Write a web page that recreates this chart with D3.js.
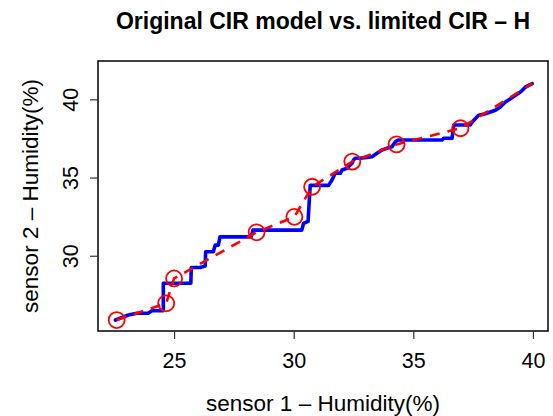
<!DOCTYPE html>
<html><head><meta charset="utf-8">
<script src="https://cdn.jsdelivr.net/npm/d3@7"></script>
<style>body{margin:0;background:#fff}svg{display:block}</style>
</head><body><svg id="c" width="553" height="416"></svg>
<script>
// ---- data ----
const blueX = [22.55, 23.09, 23.44, 23.92, 24.07, 24.55, 24.55, 25.70, 25.72, 26.09, 26.30, 26.32, 26.64, 26.72, 26.85, 26.92, 28.22, 28.30, 30.34, 30.41, 30.60, 30.69, 31.46, 31.60, 31.74, 31.95, 32.02, 32.23, 32.44, 32.50, 32.57, 32.78, 33.06, 33.27, 33.48, 33.69, 33.90, 34.11, 34.25, 34.37, 36.20, 36.27, 36.62, 36.69, 37.38, 37.46, 37.73, 38.01, 38.22, 38.43, 38.64, 38.85, 39.06, 39.27, 39.48, 39.69, 39.97];
const blueY = [25.89, 26.21, 26.32, 26.32, 26.48, 26.48, 28.24, 28.24, 29.25, 29.25, 29.35, 30.26, 30.26, 30.68, 30.68, 31.21, 31.21, 31.64, 31.64, 32.07, 32.20, 34.50, 34.50, 34.84, 35.27, 35.27, 35.48, 35.59, 35.91, 36.12, 36.23, 36.23, 36.29, 36.33, 36.55, 36.76, 36.87, 36.97, 37.29, 37.40, 37.40, 37.51, 37.51, 38.36, 38.36, 38.55, 38.98, 39.08, 39.19, 39.30, 39.51, 39.83, 40.04, 40.26, 40.47, 40.79, 41.00];
const circleX = [22.60, 24.67, 25.00, 28.45, 30.03, 30.77, 32.45, 34.30, 36.97];
const circleY = [25.89, 26.96, 28.55, 31.50, 32.49, 34.41, 36.02, 37.12, 38.15];
const redX = [22.60, 24.67, 25.00, 28.45, 30.03, 30.77, 32.45, 34.30, 36.97, 39.97];
const redY = [25.89, 26.96, 28.55, 31.50, 32.49, 34.41, 36.02, 37.12, 38.15, 41.00];
const xTicks = [25, 30, 35, 40];
const yTicks = [30, 35, 40];
const titleText = "Original CIR model vs. limited CIR \u2013 H";
const xLabel = "sensor 1 \u2013 Humidity(%)";
const yLabel = "sensor 2 \u2013 Humidity(%)";

// ---- layout ----
const L = 98, R = 548, T = 61, B = 331;
const font = "'Liberation Sans', Arial, Helvetica, sans-serif";
const svg = d3.select("#c");
svg.append("rect").attr("width", 553).attr("height", 416).attr("fill", "#fff");

const x = d3.scaleLinear().domain([21.82, 40.63]).range([L, R]);
const y = d3.scaleLinear().domain([25.19, 42.45]).range([B, T]);

svg.append("clipPath").attr("id", "clip").append("rect")
  .attr("x", L).attr("y", T).attr("width", R - L).attr("height", B - T);
const g = svg.append("g").attr("clip-path", "url(#clip)");

const line = d3.line().x(d => x(d[0])).y(d => y(d[1]));
const bluePts = blueX.map((v, i) => [v, blueY[i]]);
const redPts = redX.map((v, i) => [v, redY[i]]);

g.append("path").attr("d", line(bluePts)).attr("fill", "none")
  .attr("stroke", "#0000ff").attr("stroke-width", 3.6)
  .attr("stroke-linejoin", "round").attr("stroke-linecap", "round");

g.append("path").attr("d", line(redPts)).attr("fill", "none")
  .attr("stroke", "#ff0000").attr("stroke-width", 2.6)
  .attr("stroke-dasharray", "10,8");

g.selectAll("circle.k").data(circleX.map((v, i) => [v, circleY[i]])).join("circle")
  .attr("class", "k").attr("cx", d => x(d[0])).attr("cy", d => y(d[1])).attr("r", 8)
  .attr("fill", "none").attr("stroke", "#ff0000").attr("stroke-width", 1.8);

svg.append("rect").attr("x", L).attr("y", T).attr("width", R - L).attr("height", B - T)
  .attr("fill", "none").attr("stroke", "#000").attr("stroke-width", 1.5);

const xa = svg.append("g").attr("transform", `translate(0,${B})`)
  .call(d3.axisBottom(x).tickValues(xTicks).tickSize(8).tickPadding(14).tickFormat(d3.format("d")));
xa.select(".domain").remove();
xa.selectAll("line").attr("stroke", "#333").attr("stroke-width", 1.2);
xa.selectAll("text").attr("font-family", font).attr("font-size", 21.5).attr("fill", "#000");

const ya = svg.append("g").attr("transform", `translate(${L},0)`)
  .call(d3.axisLeft(y).tickValues(yTicks).tickSize(8).tickFormat(d3.format("d")));
ya.select(".domain").remove();
ya.selectAll("line").attr("stroke", "#333").attr("stroke-width", 1.2);
ya.selectAll("text").remove();
ya.selectAll(".tick").append("text")
  .attr("transform", "translate(-20,0) rotate(-90)")
  .attr("text-anchor", "middle").attr("dy", 0)
  .attr("font-family", font).attr("font-size", 21.5).attr("fill", "#000")
  .text(d => d);

svg.append("text").attr("x", (L + R) / 2).attr("y", 29).attr("text-anchor", "middle")
  .attr("font-family", font).attr("font-weight", "bold").attr("font-size", 23)
  .attr("fill", "#000").text(titleText);
svg.append("text").attr("x", (L + R) / 2).attr("y", 411).attr("text-anchor", "middle")
  .attr("font-family", font).attr("font-size", 22.5).attr("fill", "#000").text(xLabel);
svg.append("text").attr("transform", `translate(38,${(T + B) / 2}) rotate(-90)`)
  .attr("text-anchor", "middle")
  .attr("font-family", font).attr("font-size", 22.5).attr("fill", "#000").text(yLabel);
</script></body></html>
